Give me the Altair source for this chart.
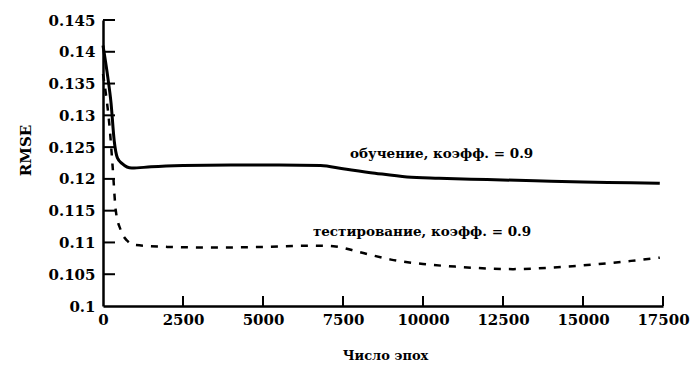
import altair as alt
import pandas as pd

# Training curve (solid)
train_epochs = [0, 150, 250, 350, 450, 600, 900, 1500, 2500, 4000, 5500, 6800,
                7500, 8500, 9500, 10500, 12000, 13500, 15000, 16500, 17400]
train_rmse = [0.1410, 0.1360, 0.1320, 0.1260, 0.1233, 0.1224, 0.1217, 0.1219,
              0.1221, 0.1222, 0.1222, 0.1221, 0.1216, 0.1209, 0.1203, 0.1201,
              0.1199, 0.1197, 0.1195, 0.1194, 0.1193]

# Testing curve (dashed)
test_epochs = [0, 100, 200, 300, 400, 550, 750, 1000, 2000, 3500, 5000, 6500,
               7200, 8000, 9000, 10000, 11000, 12000, 12800, 13500, 14500,
               15500, 16500, 17400]
test_rmse = [0.1365, 0.1330, 0.1285, 0.1220, 0.1150, 0.1120, 0.1103, 0.1096,
             0.1093, 0.1092, 0.1093, 0.1095, 0.1094, 0.1085, 0.1073, 0.1066,
             0.1062, 0.1059, 0.1058, 0.1059, 0.1062, 0.1066, 0.1071, 0.1076]

x_ticks = [0, 2500, 5000, 7500, 10000, 12500, 15000, 17500]
y_ticks = [0.1, 0.105, 0.11, 0.115, 0.12, 0.125, 0.13, 0.135, 0.14, 0.145]

label_texts = ["обучение, коэфф. = 0.9", "тестирование, коэфф. = 0.9"]
label_x = [7720, 6560]
label_y = [0.1239, 0.1116]

W, H = 560, 286
FONT = "DejaVu Serif"

train_df = pd.DataFrame({"epoch": train_epochs, "rmse": train_rmse})
test_df = pd.DataFrame({"epoch": test_epochs, "rmse": test_rmse})
xt_df = pd.DataFrame({"epoch": x_ticks[1:]})
yt_df = pd.DataFrame({"rmse": y_ticks[1:]})
lab_df = pd.DataFrame({"t": label_texts, "epoch": label_x, "rmse": label_y})

xscale = alt.Scale(domain=[0, 17500], nice=False, zero=False)
yscale = alt.Scale(domain=[0.1, 0.145], nice=False, zero=False)

xaxis = alt.Axis(values=x_ticks, format="d", ticks=False, grid=False,
                 domainColor="black", domainWidth=2.5, labelPadding=6,
                 labelFont=FONT, labelFontSize=15, labelFontWeight="bold",
                 labelColor="black", labelOverlap=False,
                 title="Число эпох", titleFont=FONT, titleFontSize=13,
                 titleFontWeight="bold", titleColor="black",
                 titleX=282, titleY=49, titleBaseline="middle",
                 titleAlign="center", labelFlush=False)
yaxis = alt.Axis(values=y_ticks, ticks=False, grid=False,
                 domainColor="black", domainWidth=2.5, labelPadding=8,
                 labelFont=FONT, labelFontSize=15, labelFontWeight="bold",
                 labelColor="black", labelOverlap=False,
                 title="RMSE", titleFont=FONT, titleFontSize=15,
                 titleFontWeight="bold", titleColor="black",
                 titleX=-78, titleY=130, titleBaseline="middle",
                 titleAlign="center", labelFlush=False,
                 labelExpr="format(datum.value, '.3~f')")

X = alt.X("epoch:Q", scale=xscale, axis=xaxis)
Y = alt.Y("rmse:Q", scale=yscale, axis=yaxis)

train_line = alt.Chart(train_df).mark_line(
    color="black", strokeWidth=3, interpolate="monotone"
).encode(x=X, y=Y)

test_line = alt.Chart(test_df).mark_line(
    color="black", strokeWidth=2.5, strokeDash=[7, 8], interpolate="monotone"
).encode(x=X, y=Y)

x_tick_marks = alt.Chart(xt_df).mark_rule(color="black", strokeWidth=2).encode(
    x=X,
    y=alt.value(H),
    y2=alt.value(H - 10),
)

y_tick_marks = alt.Chart(yt_df).mark_rule(color="black", strokeWidth=2).encode(
    y=Y,
    x=alt.value(0),
    x2=alt.value(12),
)

labels = alt.Chart(lab_df).mark_text(
    align="left", baseline="middle", font=FONT, fontSize=13.5,
    fontWeight="bold", color="black"
).encode(x=X, y=Y, text="t:N")

chart = alt.layer(
    train_line, test_line, x_tick_marks, y_tick_marks, labels
).properties(
    width=W, height=H,
    autosize=alt.AutoSizeParams(type="none"),
    padding={"left": 95, "top": 12, "right": 28, "bottom": 60},
    background="white",
).configure_view(stroke=None)

chart.save("out.html", embed_options={"renderer": "svg", "actions": False})
